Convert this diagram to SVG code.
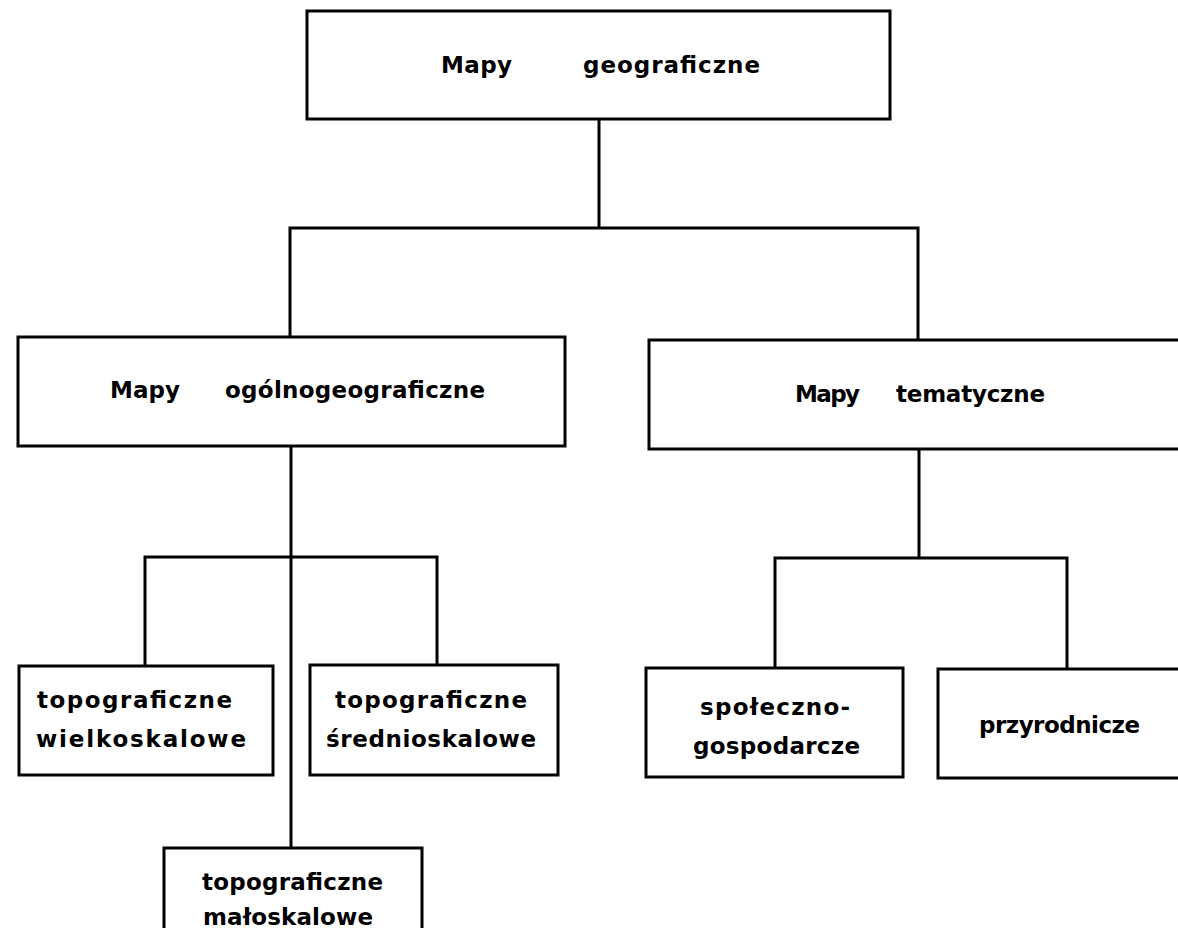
<svg xmlns="http://www.w3.org/2000/svg" width="1178" height="928" viewBox="0 0 1178 928">
<style>
.box{fill:#fff;stroke:#000;stroke-width:3;}
.ln{stroke:#000;stroke-width:3;fill:none;stroke-linecap:square;}
.t{font-family:"DejaVu Sans","Liberation Sans",sans-serif;font-weight:bold;font-size:23px;fill:#000;}
</style>
<rect width="1178" height="928" fill="#fff"/>
<g id="connectors">
<path class="ln" d="M599,119 V228 M290,228 H918 M290,228 V337 M918,228 V340"/>
<path class="ln" d="M291,446 V848 M145,557 H437 M145,557 V666 M437,557 V665"/>
<path class="ln" d="M919,449 V558 M775,558 H1067 M775,558 V668 M1067,558 V669"/>
</g>
<g id="n-geograficzne">
<rect class="box" x="307" y="11" width="583" height="108"/>
<text class="t" y="73"><tspan x="441" textLength="71" lengthAdjust="spacing">Mapy</tspan><tspan x="583" textLength="177" lengthAdjust="spacing">geograficzne</tspan></text>
</g>
<g id="n-ogolnogeograficzne">
<rect class="box" x="18" y="337" width="547" height="109"/>
<text class="t" y="398"><tspan x="110" textLength="70" lengthAdjust="spacing">Mapy</tspan><tspan x="225" textLength="260" lengthAdjust="spacing">ogólnogeograficzne</tspan></text>
</g>
<g id="n-tematyczne">
<rect class="box" x="649" y="340" width="600" height="109"/>
<text class="t" y="402"><tspan x="795" textLength="65" lengthAdjust="spacing">Mapy</tspan><tspan x="896" textLength="149" lengthAdjust="spacing">tematyczne</tspan></text>
</g>
<g id="n-wielkoskalowe">
<rect class="box" x="19" y="666" width="254" height="109"/>
<text class="t" x="37" y="708" textLength="195" lengthAdjust="spacing">topograficzne</text>
<text class="t" x="36" y="747" textLength="210" lengthAdjust="spacing">wielkoskalowe</text>
</g>
<g id="n-srednioskalowe">
<rect class="box" x="310" y="665" width="248" height="110"/>
<text class="t" x="335" y="708" textLength="192" lengthAdjust="spacing">topograficzne</text>
<text class="t" x="326" y="747" textLength="210" lengthAdjust="spacing">średnioskalowe</text>
</g>
<g id="n-spoleczno">
<rect class="box" x="646" y="668" width="257" height="109"/>
<text class="t" x="700" y="715" textLength="150" lengthAdjust="spacing">społeczno-</text>
<text class="t" x="693" y="754" textLength="167" lengthAdjust="spacing">gospodarcze</text>
</g>
<g id="n-przyrodnicze">
<rect class="box" x="938" y="669" width="300" height="109"/>
<text class="t" x="979" y="733" textLength="161" lengthAdjust="spacing">przyrodnicze</text>
</g>
<g id="n-maloskalowe">
<rect class="box" x="164" y="848" width="258" height="110"/>
<text class="t" x="202" y="890" textLength="181" lengthAdjust="spacing">topograficzne</text>
<text class="t" x="203" y="925" textLength="170" lengthAdjust="spacing">małoskalowe</text>
</g>
</svg>
